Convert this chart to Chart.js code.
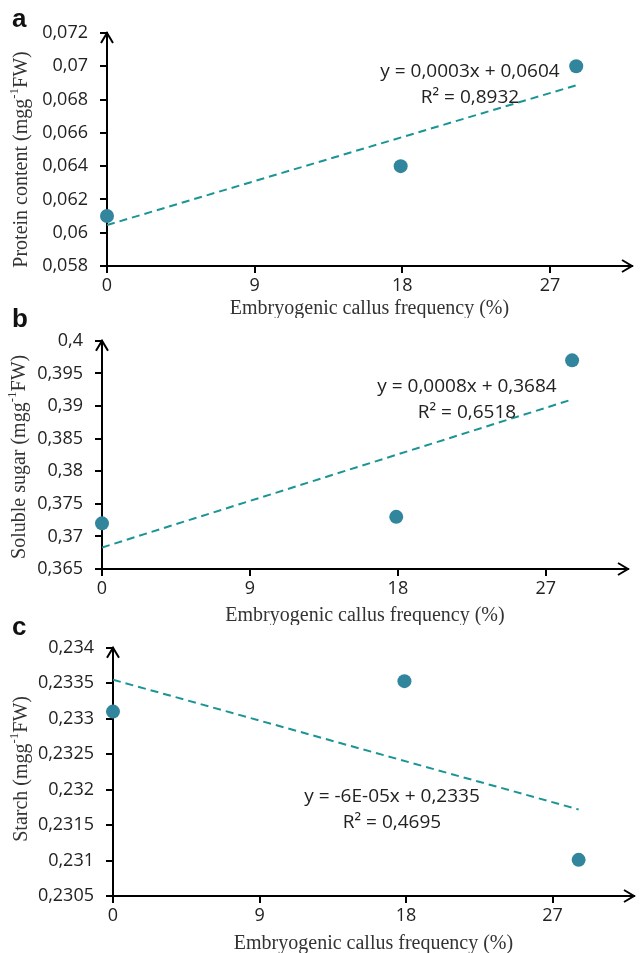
<!DOCTYPE html>
<html>
<head>
<meta charset="utf-8">
<script src="https://cdn.jsdelivr.net/npm/chart.js@4"></script>
<style>
  body { margin: 0; background: #fff; width: 641px; height: 953px; position: relative; overflow: hidden; }
  .panel { position: absolute; left: 0; width: 641px; }
  .letter { position: absolute; left: 12px; font: bold 26px "Liberation Sans", Arial, sans-serif; line-height: 26px; color: #111; }
</style>
</head>
<body>
<div class="panel" style="top:0;height:318px"><canvas id="chartA"></canvas></div>
<div class="panel" style="top:318px;height:307px"><canvas id="chartB"></canvas></div>
<div class="panel" style="top:625px;height:328px"><canvas id="chartC"></canvas></div>
<div class="letter" style="top:5px">a</div>
<div class="letter" style="top:305px">b</div>
<div class="letter" style="top:613px">c</div>
<script>
// values
const xTicks = [0, 9, 18, 27];
const callusFrequency = [0, 17.9, 28.6];

const proteinValues = [0.061, 0.064, 0.070];
const sugarValues = [0.372, 0.373, 0.397];
const starchValues = [0.2331, 0.23353, 0.23101];

// trend line end points (as drawn in the figure)
const trendX = [0, 28.6];
const proteinTrend = [0.06046, 0.06886];
const sugarTrend = [0.3683, 0.391];
const starchTrend = [0.23355, 0.23172];

const proteinTicks = [0.058, 0.06, 0.062, 0.064, 0.066, 0.068, 0.07, 0.072];
const sugarTicks = [0.365, 0.37, 0.375, 0.38, 0.385, 0.39, 0.395, 0.4];
const starchTicks = [0.2305, 0.231, 0.2315, 0.232, 0.2325, 0.233, 0.2335, 0.234];

const pointColor = '#31859C';
const trendColor = '#1A9494';
const tickFont = '"Open Sans", "DejaVu Sans", sans-serif';
const serifFont = '"Liberation Serif", "Times New Roman", serif';

const toComma = (v) => String(v).replace('.', ',');

// draws arrows, the y title with superscript and the regression text
const decorations = {
  id: 'decorations',
  afterDraw(chart, args, opts) {
    const ctx = chart.ctx;
    const area = chart.chartArea;
    ctx.save();

    // arrow heads
    ctx.strokeStyle = '#000';
    ctx.lineWidth = 2;
    ctx.beginPath();
    ctx.moveTo(area.right - 10, area.bottom - 6);
    ctx.lineTo(area.right, area.bottom);
    ctx.lineTo(area.right - 10, area.bottom + 6);
    ctx.moveTo(area.left - 6, area.top + 10);
    ctx.lineTo(area.left, area.top);
    ctx.lineTo(area.left + 6, area.top + 10);
    ctx.stroke();

    // y axis title: "<name> (mgg-1FW)" with superscript
    const parts = [
      { t: opts.yTitle + ' (mgg', sup: false },
      { t: '-1', sup: true },
      { t: 'FW)', sup: false }
    ];
    const big = '20px ' + serifFont;
    const small = '13px ' + serifFont;
    let total = 0;
    parts.forEach((p) => {
      ctx.font = p.sup ? small : big;
      p.w = ctx.measureText(p.t).width;
      total += p.w;
    });
    ctx.translate(opts.yTitleX, (area.top + area.bottom) / 2 + opts.yTitleShift);
    ctx.rotate(-Math.PI / 2);
    ctx.fillStyle = '#333';
    ctx.textBaseline = 'middle';
    ctx.textAlign = 'left';
    let x = -total / 2;
    parts.forEach((p) => {
      ctx.font = p.sup ? small : big;
      ctx.fillText(p.t, x, p.sup ? -7 : 0);
      x += p.w;
    });
    ctx.restore();

    // regression equation
    ctx.save();
    ctx.font = '19px ' + tickFont;
    ctx.fillStyle = '#222';
    ctx.textAlign = 'center';
    ctx.textBaseline = 'middle';
    opts.equation.forEach((line, i) => {
      ctx.fillText(line, opts.eqX, opts.eqY + i * 26);
    });
    ctx.restore();
  }
};

function createPanel(id, values, trend, yTicks, setup) {
  const chartContext = document.getElementById(id);

  return new Chart(chartContext, {
    type: 'scatter',
    data: {
      datasets: [
        {
          type: 'scatter',
          data: callusFrequency.map((x, i) => ({ x: x, y: values[i] })),
          backgroundColor: pointColor,
          borderWidth: 0,
          pointRadius: 7,
          clip: false,
          order: 1
        },
        {
          type: 'line',
          data: trendX.map((x, i) => ({ x: x, y: trend[i] })),
          borderColor: trendColor,
          borderWidth: 2,
          borderDash: [8, 5],
          pointRadius: 0,
          fill: false,
          order: 2
        }
      ]
    },
    options: {
      responsive: true,
      maintainAspectRatio: false,
      animation: false,
      devicePixelRatio: 1,
      layout: {
        padding: { left: 0, top: setup.top, right: setup.right, bottom: 0 }
      },
      scales: {
        x: {
          type: 'linear',
          min: 0,
          max: 32,
          afterBuildTicks: (scale) => {
            scale.ticks = xTicks.map((v) => ({ value: v }));
          },
          afterFit: (scale) => {
            scale.height = setup.xHeight;
          },
          border: { display: true, color: '#000', width: 2 },
          grid: { display: true, drawOnChartArea: false, drawTicks: true, tickLength: 7, color: '#000', lineWidth: 2 },
          ticks: {
            color: '#222',
            padding: 2,
            maxRotation: 0,
            font: { family: tickFont, size: 18 }
          },
          title: {
            display: true,
            text: 'Embryogenic callus frequency (%)',
            color: '#333',
            font: { family: serifFont, size: 20 },
            padding: { top: 0, bottom: -3 }
          }
        },
        y: {
          type: 'linear',
          min: yTicks[0],
          max: yTicks[yTicks.length - 1],
          afterBuildTicks: (scale) => {
            scale.ticks = yTicks.map((v) => ({ value: v }));
          },
          afterFit: (scale) => {
            scale.width = setup.left;
          },
          border: { display: true, color: '#000', width: 2 },
          grid: { display: true, drawOnChartArea: false, drawTicks: true, tickLength: 7, color: '#000', lineWidth: 2 },
          ticks: {
            color: '#222',
            padding: 12,
            font: { family: tickFont, size: 18 },
            callback: (value) => toComma(value)
          }
        }
      },
      plugins: {
        legend: { display: false },
        tooltip: { enabled: false },
        decorations: {
          yTitle: setup.yTitle,
          yTitleX: setup.yTitleX,
          yTitleShift: setup.yTitleShift,
          equation: setup.equation,
          eqX: setup.eqX,
          eqY: setup.eqY
        }
      }
    },
    plugins: [decorations]
  });
}

createPanel('chartA', proteinValues, proteinTrend, proteinTicks, {
  top: 33, right: 9, left: 107, xHeight: 52,
  yTitle: 'Protein content', yTitleX: 22, yTitleShift: 10,
  equation: ['y = 0,0003x + 0,0604', 'R\u00b2 = 0,8932'], eqX: 470, eqY: 72
});

createPanel('chartB', sugarValues, sugarTrend, sugarTicks, {
  top: 21, right: 13, left: 102, xHeight: 56,
  yTitle: 'Soluble sugar', yTitleX: 20, yTitleShift: 2,
  equation: ['y = 0,0008x + 0,3684', 'R\u00b2 = 0,6518'], eqX: 467, eqY: 69
});

createPanel('chartC', starchValues, starchTrend, starchTicks, {
  top: 18, right: 1, left: 113, xHeight: 57,
  yTitle: 'Starch', yTitleX: 22, yTitleShift: -3,
  equation: ['y = -6E-05x + 0,2335', 'R\u00b2 = 0,4695'], eqX: 392, eqY: 172
});
</script>
</body>
</html>
